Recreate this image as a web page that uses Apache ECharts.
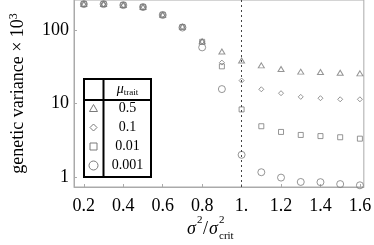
<!DOCTYPE html>
<html><head><meta charset="utf-8">
<script src="https://cdn.jsdelivr.net/npm/echarts@6/dist/echarts.min.js"></script>
<style>html,body{margin:0;padding:0;background:#fff}#c{width:374px;height:245px}</style>
</head><body><div id="c"></div>
<script>
const xs = [0.2,0.3,0.4,0.5,0.6,0.7,0.8,0.9,1.0,1.1,1.2,1.3,1.4,1.5,1.6];
const mu05   = [226,226,219,206,161,111,70,51,38.5,33,29.5,27.1,26.8,26.2,25.7];
const mu01   = [226,226,219,206,161,111,70,36,20.5,15.6,13.8,12.3,11.8,11.4,11.4];
const mu001  = [226,226,219,206,161,110,69,32,8.3,4.9,4.1,3.73,3.6,3.47,3.32];
const mu0001 = [225,225,218,205,160,108,58,15.7,2.0,1.16,0.98,0.855,0.85,0.80,0.77];
const legendLabels = ['0.5','0.1','0.01','0.001'];
const xTicks = [0.2,0.4,0.6,0.8,1.0,1.2,1.4,1.6];
const critX = 1.0;

const F = 'Liberation Serif';
const grey = '#7a7a7a';
const diamondPath = 'path://M0,-1L1,0L0,1L-1,0Z';
const symbols = ['triangle', diamondPath, 'rect', 'circle'];
const sizes = [[6,5],[5,5],[5,5],[7,7]];
const seriesVals = [mu05, mu01, mu001, mu0001];

const series = seriesVals.map((vals, i) => ({
  type: 'scatter',
  name: legendLabels[i],
  data: xs.map((x, j) => [x, vals[j]]),
  symbol: symbols[i],
  symbolSize: sizes[i],
  clip: false,
  itemStyle: { color: 'rgba(0,0,0,0)', borderColor: grey, borderWidth: 1 },
  z: 3
}));
series[0].markLine = {
  silent: true, symbol: 'none', label: { show: false },
  lineStyle: { color: '#444', type: [2,3], width: 1 },
  data: [{ xAxis: critX }]
};

// legend table
const lx = 84, ly = 79, lw = 67, lh = 98, colX = 103.5, headY = 100;
const rowY = [108, 127.5, 146.5, 165.5];
const symX = 93.5;
const legSym = [
  { type: 'polygon', shape: { points: [[symX, 104.5], [symX-4, 111.5], [symX+4, 111.5]] } },
  { type: 'polygon', shape: { points: [[symX, 124], [symX+3.5, 127.5], [symX, 131], [symX-3.5, 127.5]] } },
  { type: 'rect', shape: { x: symX-3.5, y: 143, width: 7, height: 7 } },
  { type: 'circle', shape: { cx: symX, cy: 165.5, r: 4.5 } }
].map(s => Object.assign(s, { style: { fill: 'none', stroke: grey, lineWidth: 1 } }));

const graphic = [
  { type: 'rect', shape: { x: lx, y: ly, width: lw, height: lh }, style: { fill: '#fff', stroke: '#000', lineWidth: 2 }, z: 10 },
  { type: 'line', shape: { x1: colX, y1: ly, x2: colX, y2: ly+lh }, style: { stroke: '#000', lineWidth: 2 }, z: 11 },
  { type: 'line', shape: { x1: lx, y1: headY, x2: lx+lw, y2: headY }, style: { stroke: '#000', lineWidth: 2 }, z: 11 },
  { type: 'text', x: 127.5, y: 89.5, z: 11, style: {
      text: '{m|μ}{s|trait}', align: 'center', verticalAlign: 'middle',
      rich: { m: { fontFamily: F, fontStyle: 'italic', fontSize: 14, fill: '#000' },
              s: { fontFamily: F, fontSize: 9, fill: '#000', padding: [6,0,0,0] } } } },
  ...legendLabels.map((t, i) => ({ type: 'text', x: 127.5, y: rowY[i], z: 11,
      style: { text: t, fontFamily: F, fontSize: 14, fill: '#000', align: 'center', verticalAlign: 'middle' } })),
  ...legSym.map(s => Object.assign(s, { z: 11 })),
  // x axis name
  { type: 'text', x: 187, y: 229, style: { text: 'σ', fontFamily: F, fontStyle: 'italic', fontSize: 18, fill: '#000', verticalAlign: 'middle' } },
  { type: 'text', x: 197, y: 220, style: { text: '2', fontFamily: F, fontSize: 11, fill: '#000', verticalAlign: 'middle' } },
  { type: 'text', x: 203, y: 229, style: { text: '/', fontFamily: F, fontSize: 18, fill: '#000', verticalAlign: 'middle' } },
  { type: 'text', x: 209, y: 229, style: { text: 'σ', fontFamily: F, fontStyle: 'italic', fontSize: 18, fill: '#000', verticalAlign: 'middle' } },
  { type: 'text', x: 219, y: 220, style: { text: '2', fontFamily: F, fontSize: 11, fill: '#000', verticalAlign: 'middle' } },
  { type: 'text', x: 219, y: 236, style: { text: 'crit', fontFamily: F, fontSize: 11, fill: '#000', verticalAlign: 'middle' } }
];

const chart = echarts.init(document.getElementById('c'), null, { renderer: 'canvas' });
chart.setOption({
  animation: false,
  textStyle: { fontFamily: F },
  grid: { left: 63, right: 7, top: 0, bottom: 58, show: true, borderColor: '#aaa', borderWidth: 1, backgroundColor: 'transparent' },
  xAxis: {
    type: 'value', min: 0.15, max: 1.62,
    axisLine: { lineStyle: { color: '#aaa' } },
    axisTick: { inside: true, length: 3, lineStyle: { color: '#aaa' }, customValues: xTicks },
    axisLabel: { customValues: xTicks, fontFamily: F, fontSize: 18, color: '#000', margin: 10,
      formatter: v => Math.abs(v - 1) < 1e-9 ? '1.' : v.toFixed(1) },
    splitLine: { show: false }
  },
  yAxis: {
    type: 'log', logBase: 10, min: 0.73, max: 256,
    name: '{a|genetic variance × 10}{b|3}', nameLocation: 'middle', nameGap: 46, nameRotate: 90,
    nameTextStyle: { fontFamily: F, rich: { a: { fontFamily: F, fontSize: 18, color: '#000' }, b: { fontFamily: F, fontSize: 12, color: '#000', padding: [0,0,8,0] } } },
    axisLine: { show: true, lineStyle: { color: '#aaa' } },
    axisTick: { inside: true, length: 3, lineStyle: { color: '#aaa' } },
    axisLabel: { fontFamily: F, fontSize: 18, color: '#000', margin: 5, showMinLabel: false, showMaxLabel: false,
      formatter: v => { const l = Math.log10(v); return Math.abs(l - Math.round(l)) < 1e-6 ? String(Math.round(v)) : ''; } },
    splitLine: { show: false }, minorTick: { show: false }
  },
  series,
  graphic
});
</script></body></html>
